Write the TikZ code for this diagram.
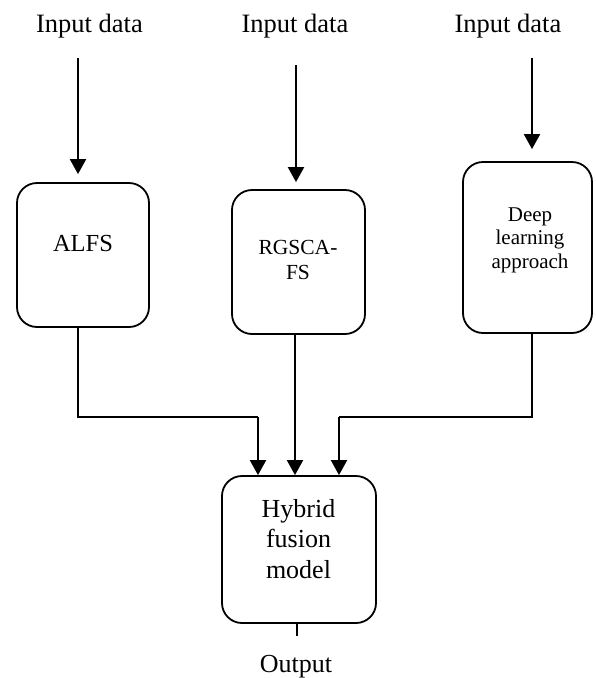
\documentclass[tikz,border=0pt]{standalone}
\usepackage{fontspec}
\setmainfont{Liberation Serif}
\usetikzlibrary{arrows.meta}
\begin{document}
\begin{tikzpicture}[x=1pt,y=-1pt,
  box/.style={draw,line width=1.8pt,rounded corners=20pt,inner sep=0pt},
  arr/.style={line width=2pt,-{Triangle[length=15pt,width=16pt]}},
  conn/.style={line width=1.5pt},
  lbl/.style={anchor=base,inner sep=0pt,align=center}]
\useasboundingbox (0,0) rectangle (595,678);
% input labels
\node[lbl,font=\fontsize{26.5}{30}\selectfont] (in1) at (89.5,32) {Input data};
\node[lbl,font=\fontsize{26.5}{30}\selectfont] (in2) at (295,32) {Input data};
\node[lbl,font=\fontsize{26.5}{30}\selectfont] (in3) at (508,32) {Input data};
% boxes
\node[box,minimum width=132pt,minimum height=144pt] (alfs) at (83,255) {};
\node[box,minimum width=133pt,minimum height=144pt] (rg) at (298.5,262) {};
\node[box,minimum width=129pt,minimum height=171pt] (deep) at (527.5,247.5) {};
\node[box,minimum width=154pt,minimum height=147pt] (hyb) at (299,549.5) {};
% box texts (base anchor = last line baseline)
\node[lbl,font=\fontsize{24.5}{28}\selectfont] (alfst) at (83,251) {ALFS};
\node[lbl,font=\fontsize{21.5}{25}\selectfont] (rgt) at (298,279) {RGSCA-\\FS};
\node[lbl,font=\fontsize{21}{23.5}\selectfont] (deept) at (530,268) {Deep\\learning\\approach};
\node[lbl,font=\fontsize{26}{30.5}\selectfont] (hybt) at (298.5,578) {Hybrid\\fusion\\model};
\node[lbl,font=\fontsize{26}{30}\selectfont] (out) at (296,672) {Output};
% input arrows
\coordinate (s1) at (78,58);
\coordinate (s2) at (296,65);
\coordinate (s3) at (532,58);
\draw[arr,shorten >=8pt] (s1) -- (s1 |- alfs.north);
\draw[arr,shorten >=7pt] (s2) -- (s2 |- rg.north);
\draw[arr,shorten >=12pt] (s3) -- (s3 |- deep.north);
% connectors to fusion
\coordinate (j1) at (78,417);
\coordinate (h1) at (258,417);
\coordinate (j3) at (532,417);
\coordinate (h3) at (339,417);
\coordinate (m2) at (295,417);
\draw[conn] (alfs.south -| j1) |- (h1);
\draw[arr] (h1) -- (h1 |- hyb.north);
\draw[conn] (deep.south -| j3) |- (h3);
\draw[arr] (h3) -- (h3 |- hyb.north);
\draw[arr] (rg.south -| m2) -- (hyb.north -| m2);
% output tick
\coordinate (o1) at (297,636);
\draw[line width=2pt] (hyb.south -| o1) -- (o1);
\end{tikzpicture}
\end{document}
